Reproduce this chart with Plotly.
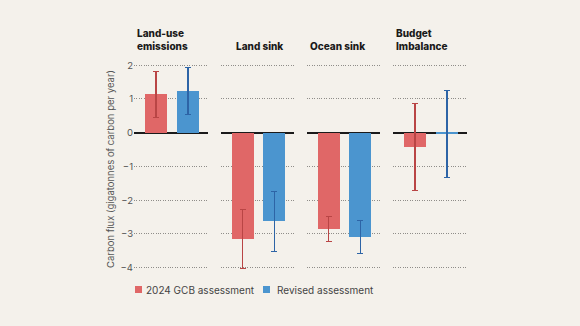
import plotly.graph_objects as go

panels = ["Land-use<br>emissions", "Land sink", "Ocean sink", "Budget<br>Imbalance"]
series_names = ["2024 GCB assessment", "Revised assessment"]
gcb_values = [1.14, -3.15, -2.85, -0.42]
gcb_errors = [0.68, 0.88, 0.38, 1.28]
revised_values = [1.24, -2.63, -3.08, -0.04]
revised_errors = [0.69, 0.88, 0.49, 1.28]
y_ticks = [2, 1, 0, -1, -2, -3, -4]

bar_colors = ["#e06767", "#4b95cf"]
err_colors = ["#b94545", "#2d64a6"]
bg = "#f4f1eb"

W, H = 580, 326
L, R, T, B = 134, 113, 55, 51
plot_w = W - L - R
plot_h = H - T - B
panel_px = [(134, 208), (221, 294), (307, 380), (393, 467)]
domains = [((a - L) / plot_w, (b - L) / plot_w) for a, b in panel_px]
title_x = [135, 234, 307.5, 394]


def py(px):
    return (H - B - px) / plot_h


def pxx(px):
    return (px - L) / plot_w


fig = go.Figure()
for i in range(4):
    xa = "x" if i == 0 else f"x{i+1}"
    ya = "y" if i == 0 else f"y{i+1}"
    for s, (vals, errs) in enumerate([(gcb_values, gcb_errors), (revised_values, revised_errors)]):
        fig.add_trace(go.Bar(
            x=[s], y=[vals[i]], xaxis=xa, yaxis=ya, width=0.69,
            marker=dict(color=bar_colors[s], line=dict(width=0)),
            error_y=dict(type="data", array=[errs[i]], visible=True,
                         color=err_colors[s], thickness=1.1, width=3),
            name=series_names[s], showlegend=False,
            hovertemplate=f"{series_names[s]}: %{{y}}<extra></extra>",
        ))

y_range = [-(H - B - 132.7) / 33.75, (132.7 - T) / 33.75]
layout = dict(
    width=W, height=H,
    paper_bgcolor=bg, plot_bgcolor=bg,
    margin=dict(l=L, r=R, t=T, b=B),
    font=dict(family="Inter, Roboto, sans-serif", color="#555"),
    bargap=0,
)
for i in range(4):
    xk = "xaxis" if i == 0 else f"xaxis{i+1}"
    yk = "yaxis" if i == 0 else f"yaxis{i+1}"
    ya = "y" if i == 0 else f"y{i+1}"
    xa = "x" if i == 0 else f"x{i+1}"
    layout[xk] = dict(domain=list(domains[i]), anchor=ya, range=[-0.686, 1.624],
                      showgrid=False, zeroline=False, showticklabels=False,
                      showline=False, fixedrange=True)
    layout[yk] = dict(anchor=xa, range=y_range, tickvals=y_ticks,
                      showgrid=True, gridcolor="#8f8d89", griddash="1px,1.4px", gridwidth=1,
                      zeroline=True, zerolinecolor="#1a1a1a", zerolinewidth=1.6,
                      showticklabels=(i == 0), tickfont=dict(size=9.5, color="#555"),
                      ticklabelstandoff=0, showline=False, fixedrange=True)
fig.update_layout(**layout)

ann = []
for i, name in enumerate(panels):
    ann.append(dict(text=name, x=pxx(title_x[i]), y=py(54),
                    xref="paper", yref="paper", xanchor="left", yanchor="bottom",
                    align="left", showarrow=False,
                    font=dict(size=10, color="#1a1a1a", weight=800,
                              family="Inter, Roboto, sans-serif")))

ann.append(dict(text="Carbon flux (gigatonnes of carbon per year)", textangle=-90,
                x=pxx(110), y=py(169), xref="paper", yref="paper",
                showarrow=False, xanchor="center", yanchor="middle",
                font=dict(size=9.5, color="#555")))

# manual legend
leg_y_px = 289.5
leg_items = [(135, 144, series_names[0], bar_colors[0]), (263, 275, series_names[1], bar_colors[1])]
shapes = []
for sq_x, tx, label, col in leg_items:
    shapes.append(dict(type="rect", xref="paper", yref="paper",
                       x0=pxx(sq_x), x1=pxx(sq_x + 7),
                       y0=py(leg_y_px + 3.5), y1=py(leg_y_px - 3.5),
                       fillcolor=col, line=dict(width=0)))
    ann.append(dict(text=label, x=pxx(tx), y=py(leg_y_px),
                    xref="paper", yref="paper", xanchor="left", yanchor="middle",
                    showarrow=False, font=dict(size=10, color="#444")))

fig.update_layout(annotations=ann, shapes=shapes)
fig.write_html("out.html", config={"displayModeBar": False},
               post_script="document.body.style.margin='0';document.body.style.overflow='hidden';")
